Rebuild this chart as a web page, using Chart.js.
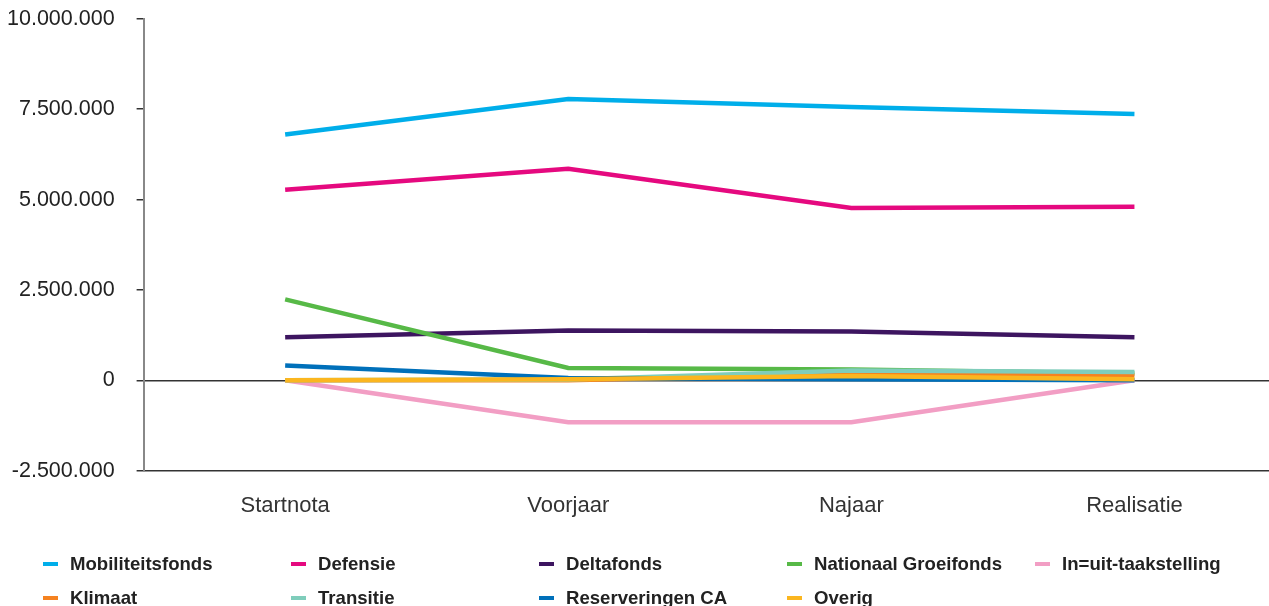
<!DOCTYPE html>
<html lang="nl">
<head>
<meta charset="utf-8">
<title>Ontwikkeling uitgaven per fonds</title>
<script src="https://cdn.jsdelivr.net/npm/chart.js@4/dist/chart.umd.min.js"></script>
<style>
  html, body { margin: 0; padding: 0; background: #fff; overflow: hidden; }
  #wrap { position: relative; width: 1299px; height: 572px; margin-left: -23px; margin-top: -16px; }
  #legend {
    position: absolute; left: 43px; top: 553px;
    display: grid; grid-template-columns: repeat(5, 248px); row-gap: 12px;
    font-family: "Liberation Sans", Arial, sans-serif; font-weight: bold;
    font-size: 18.6px; color: #222;
  }
  .item { display: flex; align-items: center; height: 22px; white-space: nowrap; }
  .swatch { width: 15px; height: 4px; margin-right: 12px; }
</style>
</head>
<body>
<div id="wrap"><canvas id="chart"></canvas></div>
<div id="legend"></div>
<script>
const stages = ['Startnota', 'Voorjaar', 'Najaar', 'Realisatie'];

const mobiliteitsfonds = [6800000, 7780000, 7560000, 7370000];
const defensie = [5270000, 5850000, 4770000, 4800000];
const deltafonds = [1190000, 1380000, 1350000, 1190000];
const groeifonds = [2240000, 340000, 300000, 190000];
const taakstelling = [0, -1160000, -1160000, 0];
const klimaat = [0, 0, 180000, 140000];
const transitie = [0, 20000, 270000, 230000];
const reserveringen = [410000, 60000, 30000, 0];
const overig = [0, 30000, 120000, 30000];

const yTicks = [-2500000, 0, 2500000, 5000000, 7500000, 10000000];

const series = [
  { label: 'Mobiliteitsfonds', data: mobiliteitsfonds, color: '#00aeea' },
  { label: 'Defensie', data: defensie, color: '#e5097f' },
  { label: 'Deltafonds', data: deltafonds, color: '#3d1560' },
  { label: 'Nationaal Groeifonds', data: groeifonds, color: '#57b947' },
  { label: 'In=uit-taakstelling', data: taakstelling, color: '#f29ec4' },
  { label: 'Klimaat', data: klimaat, color: '#f58220' },
  { label: 'Transitie', data: transitie, color: '#7fcdbb' },
  { label: 'Reserveringen CA', data: reserveringen, color: '#0070ba' },
  { label: 'Overig', data: overig, color: '#fbb61f' }
];

// dutch thousands separator
function fmt(v) {
  const s = String(Math.abs(v)).replace(/\B(?=(\d{3})+(?!\d))/g, '.');
  return (v < 0 ? '-' : '') + s;
}

const family = '"Liberation Sans", Arial, sans-serif';

new Chart(document.getElementById('chart'), {
  type: 'line',
  data: {
    labels: stages,
    datasets: series.map((s, i) => ({
      label: s.label,
      data: s.data,
      borderColor: s.color,
      backgroundColor: s.color,
      borderWidth: 4.5,
      borderCapStyle: 'butt',
      pointRadius: 0,
      tension: 0,
      fill: false,
      order: series.length - i // later series drawn on top
    }))
  },
  options: {
    responsive: true,
    maintainAspectRatio: false,
    animation: false,
    layout: { padding: { left: 8, top: 8, right: 0, bottom: 15 } },
    plugins: { legend: { display: false }, tooltip: { enabled: false } },
    scales: {
      x: {
        offset: true,
        grid: { display: false, drawTicks: false },
        border: { display: true, color: '#333', width: 1.5 },
        ticks: { color: '#333', font: { family, size: 22 }, padding: 22 }
      },
      y: {
        min: yTicks[0],
        max: yTicks[yTicks.length - 1],
        afterBuildTicks: axis => { axis.ticks = yTicks.map(v => ({ value: v })); },
        grid: {
          drawOnChartArea: true,
          color: c => (c.tick && c.tick.value === 0) ? '#333' : 'rgba(0,0,0,0)',
          lineWidth: 1.5,
          tickColor: '#333',
          tickLength: 7
        },
        border: { display: true, color: '#888', width: 2 },
        ticks: { color: '#222', font: { family, size: 21.5 }, padding: 22, callback: v => fmt(v) }
      }
    }
  }
});

const legend = document.getElementById('legend');
series.forEach(s => {
  const item = document.createElement('div');
  item.className = 'item';
  const sw = document.createElement('span');
  sw.className = 'swatch';
  sw.style.background = s.color;
  item.appendChild(sw);
  item.appendChild(document.createTextNode(s.label));
  legend.appendChild(item);
});
</script>
</body>
</html>
